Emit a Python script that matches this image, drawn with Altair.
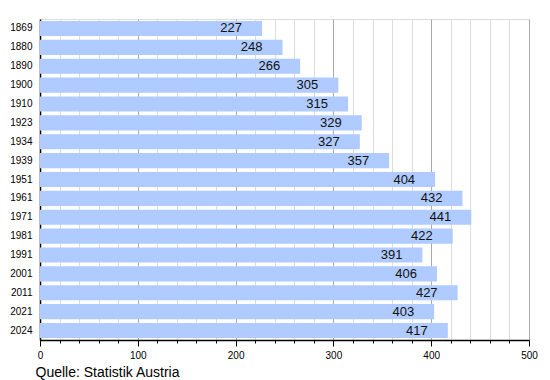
import altair as alt
import pandas as pd

years = ["1869", "1880", "1890", "1900", "1910", "1923", "1934", "1939", "1951",
         "1961", "1971", "1981", "1991", "2001", "2011", "2021", "2024"]
values = [227, 248, 266, 305, 315, 329, 327, 357, 404, 432, 441, 422, 391, 406, 427, 403, 417]
x_ticks = list(range(0, 501, 20))

df = pd.DataFrame({"year": years, "value": values})
FONT = "Liberation Sans"

x_axis = alt.Axis(
    values=x_ticks,
    labelExpr="datum.value % 100 === 0 ? datum.label : ''",
    labelOverlap=False,
    grid=True,
    gridColor={"condition": {"test": "datum.value % 100 === 0", "value": "#aaaaaa"}, "value": "#dddddd"},
    gridWidth=1,
    tickColor="#000000",
    tickSize={"condition": {"test": "datum.value % 100 === 0", "value": 6}, "value": 3},
    domainColor="#000000",
    domainWidth=1.5,
    labelFont=FONT,
    labelFontSize=10,
    labelColor="#000000",
    labelPadding=4,
    labelFlush=False,
    title="Quelle: Statistik Austria",
    titleFont=FONT,
    titleFontSize=14,
    titleFontWeight="normal",
    titleColor="#000000",
    titleAnchor="start",
    titleAlign="left",
    titleBaseline="alphabetic",
    titleX=-5,
    titleY=36,
)
x_scale = alt.Scale(domain=[0, 500], nice=False, zero=True)

y_axis = alt.Axis(
    title=None,
    ticks=False,
    grid=False,
    domainColor="#000000",
    domainWidth=1.5,
    labelFont=FONT,
    labelFontSize=10,
    labelColor="#000000",
    labelPadding=8,
)
y_scale = alt.Scale(paddingInner=0.2, paddingOuter=0.1)

base = alt.Chart(df).encode(
    x=alt.X("value:Q", scale=x_scale, axis=x_axis),
    y=alt.Y("year:N", sort=None, scale=y_scale, axis=y_axis),
)

bars = base.mark_bar(color="#b0cbff")

labels = base.mark_text(
    align="right", baseline="middle", dx=-20, font=FONT, fontSize=13, color="#111111"
).encode(text=alt.Text("value:Q"))

chart = (bars + labels).properties(
    width=489,
    height=321,
    autosize=alt.AutoSizeParams(type="none"),
    padding={"left": 32, "top": 11, "right": 13, "bottom": 42},
).configure_view(stroke=None).configure(background="white")

chart.save("out.html", embed_options={"renderer": "svg", "actions": False})
